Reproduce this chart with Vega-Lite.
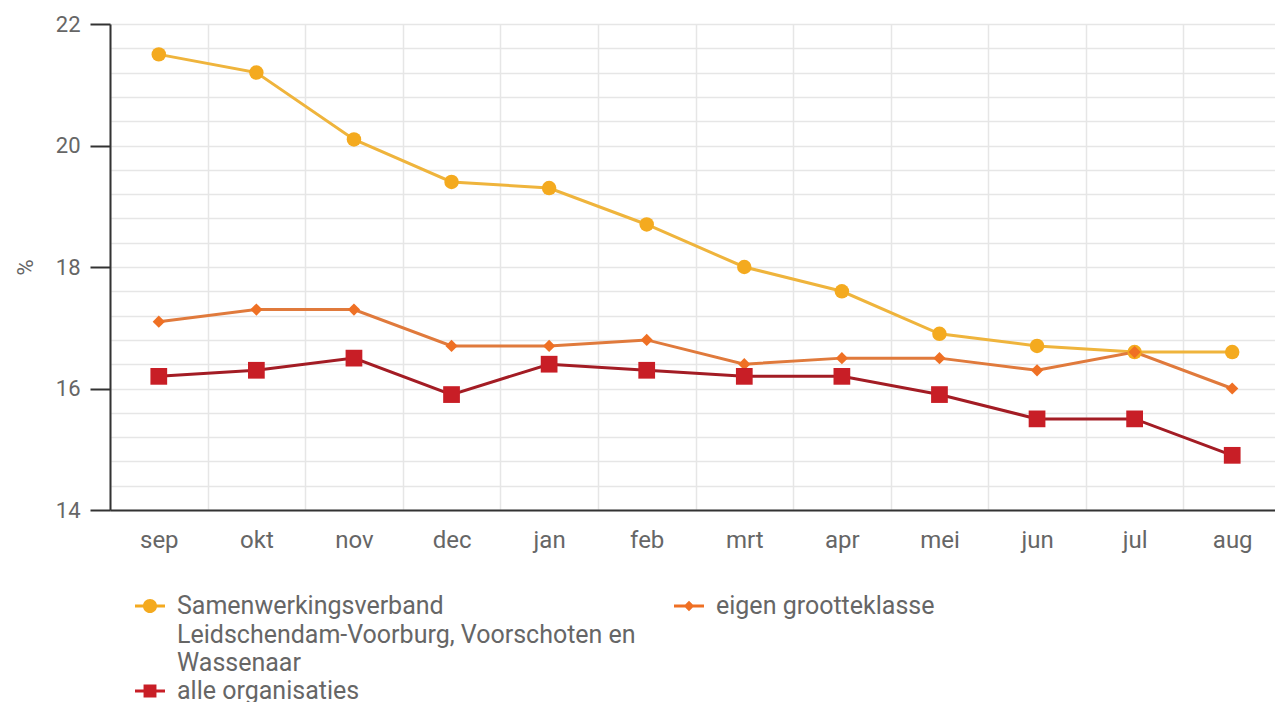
{
  "$schema": "https://vega.github.io/schema/vega-lite/v6.json",
  "width": 1171,
  "height": 486,
  "autosize": "none",
  "padding": {"left": 110, "top": 24, "right": 0, "bottom": 192},
  "background": "white",
  "config": {
    "font": "Roboto",
    "view": {"stroke": null},
    "style": {"guide-label": {"lineHeight": 28.5}}
  },
  "data": {
    "values": [
      {"maand": "sep", "reeks": "Samenwerkingsverband Leidschendam-Voorburg, Voorschoten en Wassenaar", "waarde": 21.5},
      {"maand": "okt", "reeks": "Samenwerkingsverband Leidschendam-Voorburg, Voorschoten en Wassenaar", "waarde": 21.2},
      {"maand": "nov", "reeks": "Samenwerkingsverband Leidschendam-Voorburg, Voorschoten en Wassenaar", "waarde": 20.1},
      {"maand": "dec", "reeks": "Samenwerkingsverband Leidschendam-Voorburg, Voorschoten en Wassenaar", "waarde": 19.4},
      {"maand": "jan", "reeks": "Samenwerkingsverband Leidschendam-Voorburg, Voorschoten en Wassenaar", "waarde": 19.3},
      {"maand": "feb", "reeks": "Samenwerkingsverband Leidschendam-Voorburg, Voorschoten en Wassenaar", "waarde": 18.7},
      {"maand": "mrt", "reeks": "Samenwerkingsverband Leidschendam-Voorburg, Voorschoten en Wassenaar", "waarde": 18.0},
      {"maand": "apr", "reeks": "Samenwerkingsverband Leidschendam-Voorburg, Voorschoten en Wassenaar", "waarde": 17.6},
      {"maand": "mei", "reeks": "Samenwerkingsverband Leidschendam-Voorburg, Voorschoten en Wassenaar", "waarde": 16.9},
      {"maand": "jun", "reeks": "Samenwerkingsverband Leidschendam-Voorburg, Voorschoten en Wassenaar", "waarde": 16.7},
      {"maand": "jul", "reeks": "Samenwerkingsverband Leidschendam-Voorburg, Voorschoten en Wassenaar", "waarde": 16.6},
      {"maand": "aug", "reeks": "Samenwerkingsverband Leidschendam-Voorburg, Voorschoten en Wassenaar", "waarde": 16.6},
      {"maand": "sep", "reeks": "eigen grootteklasse", "waarde": 17.1},
      {"maand": "okt", "reeks": "eigen grootteklasse", "waarde": 17.3},
      {"maand": "nov", "reeks": "eigen grootteklasse", "waarde": 17.3},
      {"maand": "dec", "reeks": "eigen grootteklasse", "waarde": 16.7},
      {"maand": "jan", "reeks": "eigen grootteklasse", "waarde": 16.7},
      {"maand": "feb", "reeks": "eigen grootteklasse", "waarde": 16.8},
      {"maand": "mrt", "reeks": "eigen grootteklasse", "waarde": 16.4},
      {"maand": "apr", "reeks": "eigen grootteklasse", "waarde": 16.5},
      {"maand": "mei", "reeks": "eigen grootteklasse", "waarde": 16.5},
      {"maand": "jun", "reeks": "eigen grootteklasse", "waarde": 16.3},
      {"maand": "jul", "reeks": "eigen grootteklasse", "waarde": 16.6},
      {"maand": "aug", "reeks": "eigen grootteklasse", "waarde": 16.0},
      {"maand": "sep", "reeks": "alle organisaties", "waarde": 16.2},
      {"maand": "okt", "reeks": "alle organisaties", "waarde": 16.3},
      {"maand": "nov", "reeks": "alle organisaties", "waarde": 16.5},
      {"maand": "dec", "reeks": "alle organisaties", "waarde": 15.9},
      {"maand": "jan", "reeks": "alle organisaties", "waarde": 16.4},
      {"maand": "feb", "reeks": "alle organisaties", "waarde": 16.3},
      {"maand": "mrt", "reeks": "alle organisaties", "waarde": 16.2},
      {"maand": "apr", "reeks": "alle organisaties", "waarde": 16.2},
      {"maand": "mei", "reeks": "alle organisaties", "waarde": 15.9},
      {"maand": "jun", "reeks": "alle organisaties", "waarde": 15.5},
      {"maand": "jul", "reeks": "alle organisaties", "waarde": 15.5},
      {"maand": "aug", "reeks": "alle organisaties", "waarde": 14.9}
    ]
  },
  "encoding": {
    "x": {
      "field": "maand",
      "type": "nominal",
      "sort": ["sep", "okt", "nov", "dec", "jan", "feb", "mrt", "apr", "mei", "jun", "jul", "aug"],
      "scale": {"paddingInner": 0, "paddingOuter": 0},
      "axis": {
        "title": null,
        "labelAngle": 0,
        "tickBand": "extent",
        "ticks": false,
        "grid": true,
        "gridColor": "#e6e6e6",
        "gridWidth": 1.5,
        "domainColor": "#333333",
        "domainWidth": 2,
        "labelFontSize": 24,
        "labelColor": "#666666",
        "labelPadding": 18
      }
    },
    "y": {
      "field": "waarde",
      "type": "quantitative",
      "scale": {"domain": [14, 22], "nice": false, "zero": false},
      "axis": {
        "title": "%",
        "values": [14, 14.4, 14.8, 15.2, 15.6, 16, 16.4, 16.8, 17.2, 17.6, 18, 18.4, 18.8, 19.2, 19.6, 20, 20.4, 20.8, 21.2, 21.6, 22],
        "labelExpr": "datum.value % 2 === 0 ? format(datum.value, 'd') : ''",
        "labelOverlap": false,
        "tickOpacity": {"condition": {"test": "datum.value % 2 === 0", "value": 1}, "value": 0},
        "tickSize": 20,
        "tickWidth": 2,
        "tickColor": "#333333",
        "domainColor": "#333333",
        "domainWidth": 2,
        "grid": true,
        "gridColor": "#e6e6e6",
        "gridWidth": 1.5,
        "labelFontSize": 22,
        "labelColor": "#666666",
        "labelPadding": 10,
        "titleFontSize": 22,
        "titleColor": "#666666",
        "titleFontWeight": "normal",
        "titlePadding": 18
      }
    }
  },
  "layer": [
    {
      "mark": {"type": "line", "strokeWidth": 3},
      "encoding": {
        "stroke": {
          "field": "reeks",
          "type": "nominal",
          "scale": {
            "domain": ["Samenwerkingsverband Leidschendam-Voorburg, Voorschoten en Wassenaar", "eigen grootteklasse", "alle organisaties"],
            "range": ["#efb43c", "#e07a3c", "#a31c24"]
          },
          "legend": null
        }
      }
    },
    {
      "transform": [{"filter": "datum.reeks === 'Samenwerkingsverband Leidschendam-Voorburg, Voorschoten en Wassenaar'"}],
      "mark": {"type": "point", "shape": "circle", "filled": true, "opacity": 1, "size": 210, "fill": "#f4aa1f"},
      "encoding": {}
    },
    {
      "transform": [{"filter": "datum.reeks === 'eigen grootteklasse'"}],
      "mark": {"type": "point", "shape": "diamond", "filled": true, "opacity": 1, "size": 150, "fill": "#ef7024"},
      "encoding": {}
    },
    {
      "transform": [{"filter": "datum.reeks === 'alle organisaties'"}],
      "mark": {"type": "point", "shape": "square", "filled": true, "opacity": 1, "size": 280, "fill": "#c81e26"},
      "encoding": {}
    },
    {
      "mark": {"type": "point", "filled": true, "opacity": 0},
      "encoding": {
        "color": {
          "field": "reeks",
          "type": "nominal",
          "scale": {
            "domain": ["Samenwerkingsverband Leidschendam-Voorburg, Voorschoten en Wassenaar", "alle organisaties", "eigen grootteklasse"],
            "range": ["#f4aa1f", "#c81e26", "#ef7024"]
          },
          "legend": {
            "title": null,
            "orient": "none",
            "legendX": 25,
            "legendY": 567,
            "columns": 2,
            "padding": 0,
            "values": ["Samenwerkingsverband Leidschendam-Voorburg, Voorschoten en Wassenaar", "alle organisaties", "eigen grootteklasse"],
            "symbolSize": 900,
            "symbolStrokeWidth": 0,
            "symbolOpacity": 1,
            "symbolFillColor": "#f4aa1f",
            "labelFontSize": 25,
            "labelColor": "#666666",
            "labelBaseline": "middle",
            "labelOffset": 12,
            "labelLimit": 0,
            "columnPadding": 38,
            "rowPadding": 0,
            "labelExpr": "datum.label == 'Samenwerkingsverband Leidschendam-Voorburg, Voorschoten en Wassenaar' ? ['Samenwerkingsverband', 'Leidschendam-Voorburg, Voorschoten en', 'Wassenaar'] : (datum.label == 'eigen grootteklasse' ? ['eigen grootteklasse', ' ', ' '] : datum.label)"
          }
        },
        "shape": {
          "field": "reeks",
          "type": "nominal",
          "scale": {
            "domain": ["Samenwerkingsverband Leidschendam-Voorburg, Voorschoten en Wassenaar", "alle organisaties", "eigen grootteklasse"],
            "range": [
              "M-1,-0.1H1V0.1H-1Z M0.47,0A0.47,0.47 0 1,1 -0.47,0A0.47,0.47 0 1,1 0.47,0Z",
              "M-1,-0.1H1V0.1H-1Z M-0.43,-0.43H0.43V0.43H-0.43Z",
              "M-1,-0.1H1V0.1H-1Z M0,-0.35L0.35,0L0,0.35L-0.35,0Z"
            ]
          },
          "legend": {
            "title": null,
            "orient": "none",
            "legendX": 25,
            "legendY": 567,
            "columns": 2,
            "padding": 0,
            "values": ["Samenwerkingsverband Leidschendam-Voorburg, Voorschoten en Wassenaar", "alle organisaties", "eigen grootteklasse"],
            "symbolSize": 900,
            "symbolStrokeWidth": 0,
            "symbolOpacity": 1,
            "symbolFillColor": "#f4aa1f",
            "labelFontSize": 25,
            "labelColor": "#666666",
            "labelBaseline": "middle",
            "labelOffset": 12,
            "labelLimit": 0,
            "columnPadding": 38,
            "rowPadding": 0,
            "labelExpr": "datum.label == 'Samenwerkingsverband Leidschendam-Voorburg, Voorschoten en Wassenaar' ? ['Samenwerkingsverband', 'Leidschendam-Voorburg, Voorschoten en', 'Wassenaar'] : (datum.label == 'eigen grootteklasse' ? ['eigen grootteklasse', ' ', ' '] : datum.label)"
          }
        }
      }
    }
  ]
}
